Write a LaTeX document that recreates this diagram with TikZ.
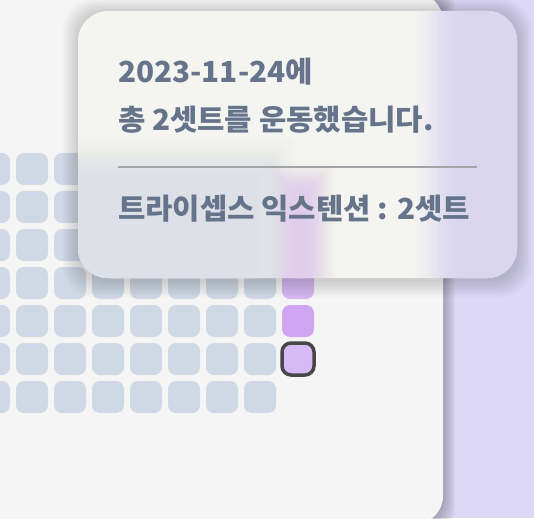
\documentclass[tikz,border=0pt]{standalone}
\usepackage{fontspec}
\newfontfamily\kr{Noto Sans CJK KR}
\definecolor{bglav}{HTML}{DCD8F5}
\definecolor{card}{HTML}{F5F5F5}
\definecolor{cell}{HTML}{CFD8E5}
\definecolor{purA}{HTML}{D6B7F2}
\definecolor{purB}{HTML}{D0A6F3}
\definecolor{purC}{HTML}{D7B9F5}
\definecolor{outl}{HTML}{474747}
\definecolor{tipbase}{HTML}{F4F4F0}
\definecolor{tipblue}{HTML}{DDE1E7}
\definecolor{tippur}{HTML}{DFCDEB}
\definecolor{tiplav}{HTML}{DAD6F0}
\definecolor{txt}{HTML}{65748B}
\definecolor{rule}{HTML}{A2A4A6}
\tikzset{
  cellbox/.style={fill=cell, rounded corners=8pt},
  tiptext/.style={text=txt, font=\kr\bfseries\fontsize{29}{33}\selectfont, anchor=base west, inner sep=0pt, outer sep=0pt, xscale=1.025, transform shape},
}
% blurred rectangle (smoothstep edge): color, x1,y1,x2,y2, radius (radius < half of the smaller side)
\newcommand\blurbox[6]{%
  \foreach \k in {1,...,24}{%
    \pgfmathsetmacro\ta{(\k-1)/24}%
    \pgfmathsetmacro\tb{\k/24}%
    \pgfmathsetmacro\Fa{3*\ta*\ta-2*\ta*\ta*\ta}%
    \pgfmathsetmacro\Fb{3*\tb*\tb-2*\tb*\tb*\tb}%
    \pgfmathsetmacro\aa{(\Fb-\Fa)/(1-\Fa)}%
    \pgfmathsetmacro\ee{#6*(1-2*(\k-0.5)/24)}%
    \fill[#1, fill opacity=\aa] (#2-\ee,#3-\ee) rectangle (#4+\ee,#5+\ee);
  }}
\begin{document}
\begin{tikzpicture}[x=1pt,y=-1pt]
\useasboundingbox (0,0) rectangle (534,518);
\clip (0,0) rectangle (534,518);
% background
\fill[bglav] (0,0) rectangle (534,518);
% card shadow
\foreach \k in {1,...,8}{
  \fill[black, fill opacity=0.03, rounded corners=28pt] (-40-\k*1.5,-7-\k*1.5) rectangle (443+\k*1.5,524+\k*1.5);
}
% card
\fill[card, rounded corners=28pt] (-40,-7) rectangle (443,524);
% cells
\foreach \i in {0,...,7}{
  \foreach \j in {0,...,6}{
    \fill[cellbox] (-22+38*\i,153+38*\j) rectangle ++(32,32);
  }
}
\foreach \j in {0,1,2,3}{
  \fill[purA, rounded corners=8pt] (282,153+38*\j) rectangle ++(32,32);
}
\fill[purB, rounded corners=8pt] (282,305) rectangle ++(32,32);
\draw[outl, fill=purC, line width=3.5pt, rounded corners=9pt] (282,343) rectangle ++(32,32);
% tooltip shadow
\foreach \k in {1,...,10}{
  \fill[black, fill opacity=0.014, rounded corners=30pt] (78-\k*1.5,12-\k*1.3) rectangle (517+\k*1.5,280+\k*1.7);
}
% tooltip body
\begin{scope}
  \clip[rounded corners=30pt] (78,11) rectangle (517,278);
  \fill[tipbase] (70,0) rectangle (530,290);
  \blurbox{tipblue}{-50}{160}{272}{400}{24}
  \blurbox{tippur}{280}{178}{320}{400}{18}
  \blurbox{tiplav}{440}{-80}{600}{400}{28}
\end{scope}
% texts
\node[tiptext] (l1) at (118,83) {2023-11-24에};
\node[tiptext] (l2) at (118,131) {총 2셋트를 운동했습니다.};
\coordinate (ra) at (118,167);
\coordinate (rb) at (477,167);
\draw[rule, line width=1.6pt] (ra) -- (rb);
\node[tiptext] (l3) at (118,220) {트라이셉스 익스텐션 : 2셋트};
\end{tikzpicture}
\end{document}
